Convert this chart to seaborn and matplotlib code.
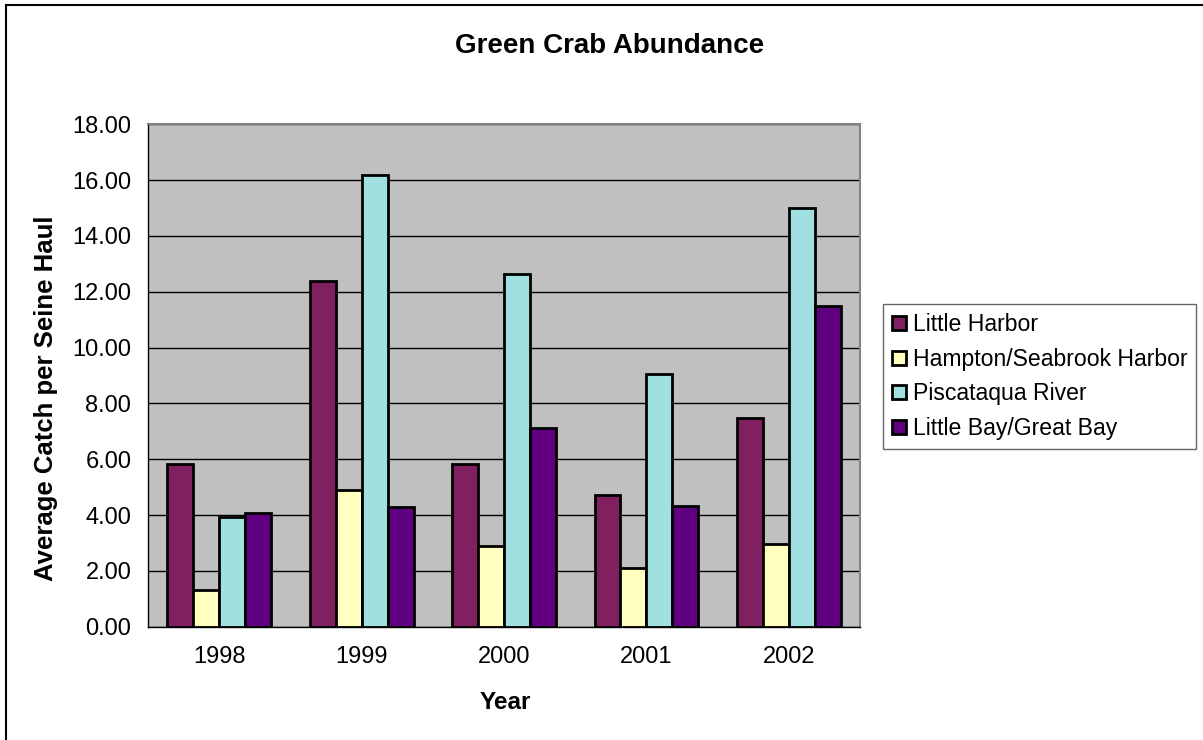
import pandas as pd
import numpy as np
import seaborn as sns
import matplotlib.pyplot as plt
from matplotlib.patches import Rectangle
from matplotlib.ticker import FixedLocator

# Data
years = ['1998', '1999', '2000', '2001', '2002']
sites = ['Little Harbor', 'Hampton/Seabrook Harbor', 'Piscataqua River', 'Little Bay/Great Bay']
little_harbor = [5.83, 12.37, 5.84, 4.73, 7.48]
hampton_seabrook = [1.33, 4.91, 2.90, 2.10, 2.96]
piscataqua = [3.92, 16.20, 12.64, 9.06, 15.01]
little_great_bay = [4.07, 4.30, 7.12, 4.31, 11.49]
colors = ['#802060', '#FFFFC0', '#A0E0E0', '#600080']

# Build a long-form table for seaborn
df = pd.DataFrame({
    'Year': years * 4,
    'Site': np.repeat(sites, len(years)),
    'Catch': little_harbor + hampton_seabrook + piscataqua + little_great_bay,
})

sns.set_style('white')
plt.rcParams['font.family'] = ['Liberation Sans', 'DejaVu Sans']
plt.rcParams.update({'text.color': 'black', 'axes.labelcolor': 'black',
                     'xtick.color': 'black', 'ytick.color': 'black'})

fig = plt.figure(figsize=(12.03, 7.4), dpi=100)
ax = fig.add_axes([0.123, 0.153, 0.592, 0.679])
ax.set_facecolor('#C0C0C0')

sns.barplot(data=df, x='Year', y='Catch', hue='Site', hue_order=sites,
            palette=colors, saturation=1, width=0.73, gap=0, edgecolor='black',
            linewidth=2, ax=ax, legend=True)

# axes and grid
ax.set_ylim(0, 18)
ax.set_xlim(-0.5, 4.5)
ax.set_yticks(np.arange(0, 18.01, 2))
ax.set_yticklabels([f'{v:.2f}' for v in np.arange(0, 18.01, 2)], fontsize=17)
ax.yaxis.grid(True, color='black', linewidth=1)
ax.set_axisbelow(True)
ax.tick_params(axis='x', which='major', length=0, labelsize=17, pad=14)
ax.tick_params(axis='y', which='major', length=4, width=1, direction='out', pad=8)
ax.xaxis.set_minor_locator(FixedLocator(np.arange(-0.5, 4.6, 1)))
ax.tick_params(axis='x', which='minor', length=5, width=1, color='black', direction='out')

for s in ['top', 'right']:
    ax.spines[s].set_color('#808080')
    ax.spines[s].set_linewidth(1.5)
for s in ['left', 'bottom']:
    ax.spines[s].set_color('black')
    ax.spines[s].set_linewidth(1)

ax.set_xlabel('Year', fontsize=17.5, fontweight='bold')
ax.set_ylabel('Average Catch per Seine Haul', fontsize=18.5, fontweight='bold')
ax.xaxis.set_label_coords(0.501, -0.128)
ax.yaxis.set_label_coords(-0.126, 0.455)
fig.text(0.507, 0.938, 'Green Crab Abundance', ha='center', va='center',
         fontsize=20, fontweight='bold')

# legend outside to the right
handles, labels = ax.get_legend_handles_labels()
ax.legend_.remove()
leg = fig.legend(handles, labels, loc='upper left', bbox_to_anchor=(0.734, 0.589),
                 fontsize=16.6, frameon=True, fancybox=False, edgecolor='#404040',
                 handlelength=0.58, handleheight=0.58, handletextpad=0.3,
                 labelspacing=0.5, borderpad=0.4, borderaxespad=0)
leg.get_frame().set_linewidth(1)

# outer chart border (only left and top edges fall inside the image)
fig.patches.append(Rectangle((0.005, -0.1), 1.2, 1.0932, transform=fig.transFigure,
                             fill=False, edgecolor='black', linewidth=1.5))

fig.savefig('out.png', dpi=100, facecolor='white')
